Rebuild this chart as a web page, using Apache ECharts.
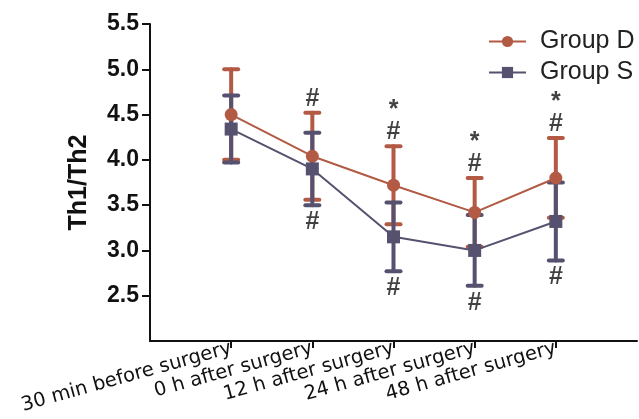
<!DOCTYPE html>
<html>
<head>
<meta charset="utf-8">
<script src="https://cdn.jsdelivr.net/npm/echarts@6/dist/echarts.min.js"></script>
<style>html,body{margin:0;padding:0;background:#fff}#c{width:639px;height:419px}</style>
</head>
<body>
<div id="c"></div>
<script>
var categories = ['30 min before surgery', '0 h after surgery', '12 h after surgery', '24 h after surgery', '48 h after surgery'];
var dMean = [4.50, 4.04, 3.72, 3.42, 3.80];
var dErr  = [0.50, 0.48, 0.43, 0.38, 0.44];
var sMean = [4.34, 3.90, 3.15, 3.00, 3.32];
var sErr  = [0.37, 0.40, 0.38, 0.39, 0.43];
var yTicks = [2.5, 3.0, 3.5, 4.0, 4.5, 5.0, 5.5];
// significance marks: index into categories
var hashAboveD = [1, 2, 3, 4];
var starAboveD = [2, 3, 4];
var hashBelowS = [1, 2, 3, 4];

var colD = '#b25a43';
var colS = '#56516f';

// padded category list so the axis extends one slot either side
var xCats = [''].concat(categories, ['']);

function errData(mean, err) {
  return mean.map(function (m, i) { return [i + 1, m - err[i], m + err[i]]; });
}
function lineData(mean) {
  return mean.map(function (m, i) { return [i + 1, m]; });
}
function errSeries(name, mean, err, color) {
  return {
    type: 'custom',
    name: name + ' err',
    data: errData(mean, err),
    encode: { x: 0, y: [1, 2] },
    silent: true,
    renderItem: function (params, api) {
      var x = api.value(0);
      var lo = api.coord([x, api.value(1)]);
      var hi = api.coord([x, api.value(2)]);
      var hw = 7;
      var st = { stroke: color, lineWidth: 4, lineCap: 'round' };
      return {
        type: 'group',
        children: [
          { type: 'line', shape: { x1: hi[0], y1: hi[1], x2: lo[0], y2: lo[1] }, style: st },
          { type: 'line', shape: { x1: hi[0] - hw, y1: hi[1], x2: hi[0] + hw, y2: hi[1] }, style: st },
          { type: 'line', shape: { x1: lo[0] - hw, y1: lo[1], x2: lo[0] + hw, y2: lo[1] }, style: st }
        ]
      };
    }
  };
}
function markSeries(idxList, mean, err, sign, text, offY) {
  return {
    type: 'scatter',
    symbolSize: 0,
    silent: true,
    data: idxList.map(function (i) { return [i + 1, mean[i] + sign * err[i]]; }),
    label: {
      show: true, position: 'inside', offset: [0, offY],
      formatter: text, color: '#111', fontSize: 25, fontFamily: 'Arial, Liberation Sans', fontWeight: 'bold'
    }
  };
}

var chart = echarts.init(document.getElementById('c'), null, { renderer: 'canvas' });
chart.setOption({
  animation: false,
  backgroundColor: '#ffffff',
  grid: { left: 150, right: 2, top: 24, bottom: 78, containLabel: false },
  legend: {
    orient: 'vertical', left: 483, top: 24, itemGap: 6,
    itemWidth: 37, itemHeight: 14,
    textStyle: { fontSize: 25, fontFamily: 'Arial, Liberation Sans', color: '#222', padding: [0, 0, 0, 9] },
    data: ['Group D', 'Group S']
  },
  xAxis: {
    type: 'category', data: xCats, boundaryGap: false,
    axisLine: { lineStyle: { color: '#111', width: 2 } },
    axisTick: { show: true, length: 7, lineStyle: { color: '#111', width: 2 },
      interval: function (i, v) { return v !== ''; } },
    axisLabel: { interval: function (i, v) { return v !== ''; }, rotate: 15.5, margin: 7,
      fontSize: 19.5, fontFamily: 'DejaVu Sans', color: '#111' },
    splitLine: { show: false }
  },
  yAxis: {
    type: 'value', min: 2, max: 5.5, interval: 0.5,
    name: 'Th1/Th2', nameLocation: 'middle', nameGap: 58, nameRotate: 90,
    nameTextStyle: { fontSize: 25, fontWeight: 'bold', fontFamily: 'Arial, Liberation Sans', color: '#111' },
    axisLine: { show: true, lineStyle: { color: '#111', width: 2 } },
    axisTick: { show: true, length: 8, lineStyle: { color: '#111', width: 2 }, customValues: yTicks },
    axisLabel: { customValues: yTicks, fontSize: 23, fontWeight: 'bold', fontFamily: 'Arial, Liberation Sans', color: '#111', margin: 11,
      formatter: function (v) { return v.toFixed(1); } },
    splitLine: { show: false }
  },
  series: [
    errSeries('Group D', dMean, dErr, colD),
    errSeries('Group S', sMean, sErr, colS),
    { type: 'line', name: 'Group D', data: lineData(dMean), symbol: 'circle', symbolSize: 13,
      itemStyle: { color: colD }, lineStyle: { color: colD, width: 2 } },
    { type: 'line', name: 'Group S', data: lineData(sMean), symbol: 'rect', symbolSize: 13,
      itemStyle: { color: colS }, lineStyle: { color: colS, width: 2 } },
    markSeries(hashAboveD, dMean, dErr, 1, '#', -14),
    markSeries(starAboveD, dMean, dErr, 1, '*', -36),
    markSeries(hashBelowS, sMean, sErr, -1, '#', 17)
  ]
});
</script>
</body>
</html>
